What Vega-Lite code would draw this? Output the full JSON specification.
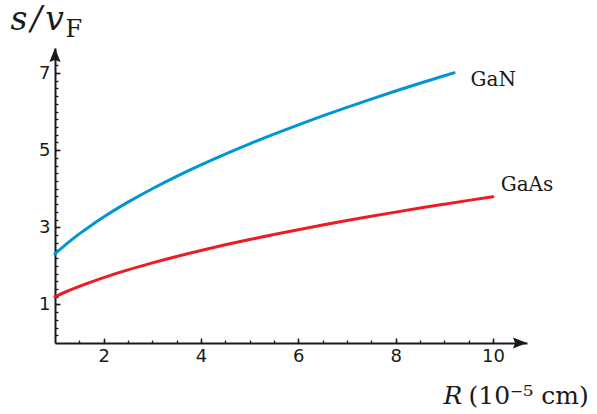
{
  "$schema": "https://vega.github.io/schema/vega-lite/v6.json",
  "width": 472,
  "height": 295,
  "autosize": {"type": "none"},
  "padding": {"left": 55, "top": 48, "right": 70, "bottom": 71},
  "background": "white",
  "config": {"view": {"stroke": null}, "axis": {"grid": false}},
  "resolve": {"axis": {"x": "independent", "y": "independent"}},
  "layer": [
    {
      "data": {"values": [
        {"material": "GaN", "R": 1, "s": 2.31},
        {"material": "GaN", "R": 1.25, "s": 2.583},
        {"material": "GaN", "R": 1.5, "s": 2.829},
        {"material": "GaN", "R": 1.75, "s": 3.056},
        {"material": "GaN", "R": 2, "s": 3.267},
        {"material": "GaN", "R": 2.5, "s": 3.652},
        {"material": "GaN", "R": 3, "s": 4.001},
        {"material": "GaN", "R": 3.5, "s": 4.322},
        {"material": "GaN", "R": 4, "s": 4.62},
        {"material": "GaN", "R": 4.5, "s": 4.9},
        {"material": "GaN", "R": 5, "s": 5.165},
        {"material": "GaN", "R": 5.5, "s": 5.417},
        {"material": "GaN", "R": 6, "s": 5.658},
        {"material": "GaN", "R": 6.5, "s": 5.889},
        {"material": "GaN", "R": 7, "s": 6.112},
        {"material": "GaN", "R": 7.5, "s": 6.326},
        {"material": "GaN", "R": 8, "s": 6.534},
        {"material": "GaN", "R": 8.5, "s": 6.735},
        {"material": "GaN", "R": 9, "s": 6.93},
        {"material": "GaN", "R": 9.2, "s": 7.007},
        {"material": "GaAs", "R": 1, "s": 1.2},
        {"material": "GaAs", "R": 1.25, "s": 1.342},
        {"material": "GaAs", "R": 1.5, "s": 1.47},
        {"material": "GaAs", "R": 1.75, "s": 1.587},
        {"material": "GaAs", "R": 2, "s": 1.697},
        {"material": "GaAs", "R": 2.5, "s": 1.897},
        {"material": "GaAs", "R": 3, "s": 2.078},
        {"material": "GaAs", "R": 3.5, "s": 2.245},
        {"material": "GaAs", "R": 4, "s": 2.4},
        {"material": "GaAs", "R": 4.5, "s": 2.546},
        {"material": "GaAs", "R": 5, "s": 2.683},
        {"material": "GaAs", "R": 5.5, "s": 2.814},
        {"material": "GaAs", "R": 6, "s": 2.939},
        {"material": "GaAs", "R": 6.5, "s": 3.059},
        {"material": "GaAs", "R": 7, "s": 3.175},
        {"material": "GaAs", "R": 7.5, "s": 3.286},
        {"material": "GaAs", "R": 8, "s": 3.394},
        {"material": "GaAs", "R": 8.5, "s": 3.499},
        {"material": "GaAs", "R": 9, "s": 3.6},
        {"material": "GaAs", "R": 9.5, "s": 3.699},
        {"material": "GaAs", "R": 10, "s": 3.795}
      ]},
      "mark": {"type": "line", "strokeWidth": 3, "interpolate": "monotone", "strokeCap": "round", "clip": false},
      "encoding": {
        "x": {
          "field": "R", "type": "quantitative",
          "scale": {"domain": [1, 10.7], "nice": false, "zero": false},
          "axis": {
            "orient": "bottom", "values": [2, 4, 6, 8, 10],
            "tickSize": -5, "tickWidth": 1.5, "tickColor": "#1a1a1a",
            "domainColor": "#1a1a1a", "domainWidth": 2,
            "labelFont": "DejaVu Sans", "labelFontSize": 18, "labelColor": "#1a1a1a",
            "labelPadding": 9, "labelFlush": false, "labelOverlap": false,
            "title": "(10\u207b\u2075 cm)", "titleFont": "DejaVu Serif", "titleFontSize": 25,
            "titleFontWeight": "normal", "titleColor": "#1a1a1a",
            "titleAlign": "left", "titleBaseline": "alphabetic", "titleX": 413, "titleY": 60
          }
        },
        "y": {
          "field": "s", "type": "quantitative",
          "scale": {"domain": [0, 7.65], "nice": false, "zero": false},
          "axis": {
            "orient": "left", "values": [1, 3, 5, 7],
            "tickSize": -5, "tickWidth": 1.5, "tickColor": "#1a1a1a",
            "domainColor": "#1a1a1a", "domainWidth": 2,
            "labelFont": "DejaVu Sans", "labelFontSize": 18, "labelColor": "#1a1a1a",
            "labelPadding": 10, "labelFlush": false, "labelOverlap": false,
            "title": "s\u200a/\u200av", "titleFont": "DejaVu Serif", "titleFontSize": 33,
            "titleFontStyle": "italic", "titleFontWeight": "normal", "titleColor": "#1a1a1a",
            "titleAngle": 0, "titleAlign": "left", "titleBaseline": "alphabetic",
            "titleX": -45, "titleY": -19
          }
        },
        "color": {
          "field": "material", "type": "nominal",
          "scale": {"domain": ["GaN", "GaAs"], "range": ["#0096D6", "#ED1C24"]},
          "legend": null
        }
      }
    },
    {
      "data": {"values": [
        {"label": "GaN", "R": 9.54, "s": 6.82},
        {"label": "GaAs", "R": 10.16, "s": 4.1}
      ]},
      "mark": {"type": "text", "align": "left", "baseline": "middle", "font": "DejaVu Serif", "fontSize": 20, "color": "#1a1a1a"},
      "encoding": {
        "x": {"field": "R", "type": "quantitative", "axis": null},
        "y": {"field": "s", "type": "quantitative", "axis": null},
        "text": {"field": "label"}
      }
    },
    {
      "data": {"values": [
        {"R": 1, "s": 7.65, "dir": "up"},
        {"R": 10.7, "s": 0, "dir": "right"}
      ]},
      "mark": {"type": "point", "filled": true, "opacity": 1, "size": 49, "color": "#1a1a1a", "strokeWidth": 0, "clip": false},
      "encoding": {
        "x": {
          "field": "R", "type": "quantitative",
          "axis": {
            "orient": "bottom",
            "values": [1.5, 2, 2.5, 3, 3.5, 4, 4.5, 5, 5.5, 6, 6.5, 7, 7.5, 8, 8.5, 9, 9.5, 10],
            "tickSize": -3, "tickWidth": 1.3, "tickColor": "#1a1a1a",
            "domain": false, "labels": false,
            "title": "R", "titleFont": "DejaVu Serif", "titleFontSize": 25,
            "titleFontStyle": "italic", "titleFontWeight": "normal", "titleColor": "#1a1a1a",
            "titleAlign": "left", "titleBaseline": "alphabetic", "titleX": 388, "titleY": 60
          }
        },
        "y": {
          "field": "s", "type": "quantitative",
          "axis": {
            "orient": "left",
            "values": [0.2, 0.4, 0.6, 0.8, 1, 1.2, 1.4, 1.6, 1.8, 2, 2.2, 2.4, 2.6, 2.8, 3, 3.2, 3.4, 3.6, 3.8, 4, 4.2, 4.4, 4.6, 4.8, 5, 5.2, 5.4, 5.6, 5.8, 6, 6.2, 6.4, 6.6, 6.8, 7, 7.2],
            "tickSize": -3, "tickWidth": 1.3, "tickColor": "#1a1a1a",
            "domain": false, "labels": false,
            "title": "F", "titleFont": "DejaVu Serif", "titleFontSize": 24,
            "titleFontWeight": "normal", "titleColor": "#1a1a1a",
            "titleAngle": 0, "titleAlign": "left", "titleBaseline": "alphabetic",
            "titleX": 10, "titleY": -12
          }
        },
        "shape": {
          "field": "dir", "type": "nominal",
          "scale": {"domain": ["up", "right"], "range": ["M0,0L1.6,4L0,3.4L-1.6,4Z", "M0,0L-4,-1.6L-3.4,0L-4,1.6Z"]},
          "legend": null
        }
      }
    }
  ]
}
